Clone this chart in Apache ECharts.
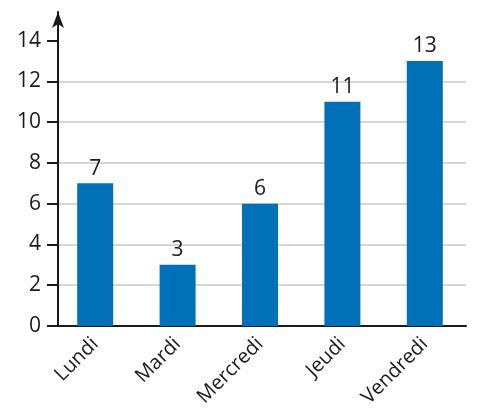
<!DOCTYPE html>
<html>
<head>
<meta charset="utf-8">
<script src="https://cdn.jsdelivr.net/npm/echarts@6/dist/echarts.min.js"></script>
<style>
  html, body { margin: 0; padding: 0; background: #fff; }
  #chart { width: 478px; height: 412px; }
</style>
</head>
<body>
<div id="chart"></div>
<script>
  // jours de la semaine
  const days = ['Lundi', 'Mardi', 'Mercredi', 'Jeudi', 'Vendredi'];
  const values = [7, 3, 6, 11, 13];
  const yTicks = [0, 2, 4, 6, 8, 10, 12, 14];

  const chart = echarts.init(document.getElementById('chart'));
  const font = 'Open Sans';

  chart.setOption({
    animation: false,
    grid: { left: 54, right: 12, top: 12, bottom: 86 },
    xAxis: {
      type: 'category',
      data: days,
      axisLine: { lineStyle: { color: '#1a1a1a', width: 2 } },
      axisTick: { show: false },
      axisLabel: {
        rotate: 45,
        margin: 15,
        color: '#1a1a1a',
        fontSize: 20,
        fontFamily: font
      }
    },
    yAxis: {
      type: 'value',
      min: 0,
      max: 15.4,
      interval: 2,
      offset: -4,
      axisLine: {
        show: true,
        symbol: ['none', 'arrow'],
        symbolSize: [9, 16],
        lineStyle: { color: '#1a1a1a', width: 2 }
      },
      axisTick: {
        show: true,
        length: 11,
        customValues: yTicks,
        lineStyle: { color: '#1a1a1a', width: 2 }
      },
      axisLabel: {
        customValues: yTicks,
        margin: 17,
        color: '#1a1a1a',
        fontSize: 21,
        fontFamily: font
      },
      splitLine: {
        showMaxLine: false,
        lineStyle: { color: '#c8c8c8', width: 1.5 }
      }
    },
    series: [{
      type: 'bar',
      data: values,
      barWidth: 36,
      itemStyle: { color: '#0071b9' },
      label: {
        show: true,
        position: 'top',
        distance: 4,
        color: '#1a1a1a',
        fontSize: 21,
        fontFamily: font
      }
    }]
  });
</script>
</body>
</html>
